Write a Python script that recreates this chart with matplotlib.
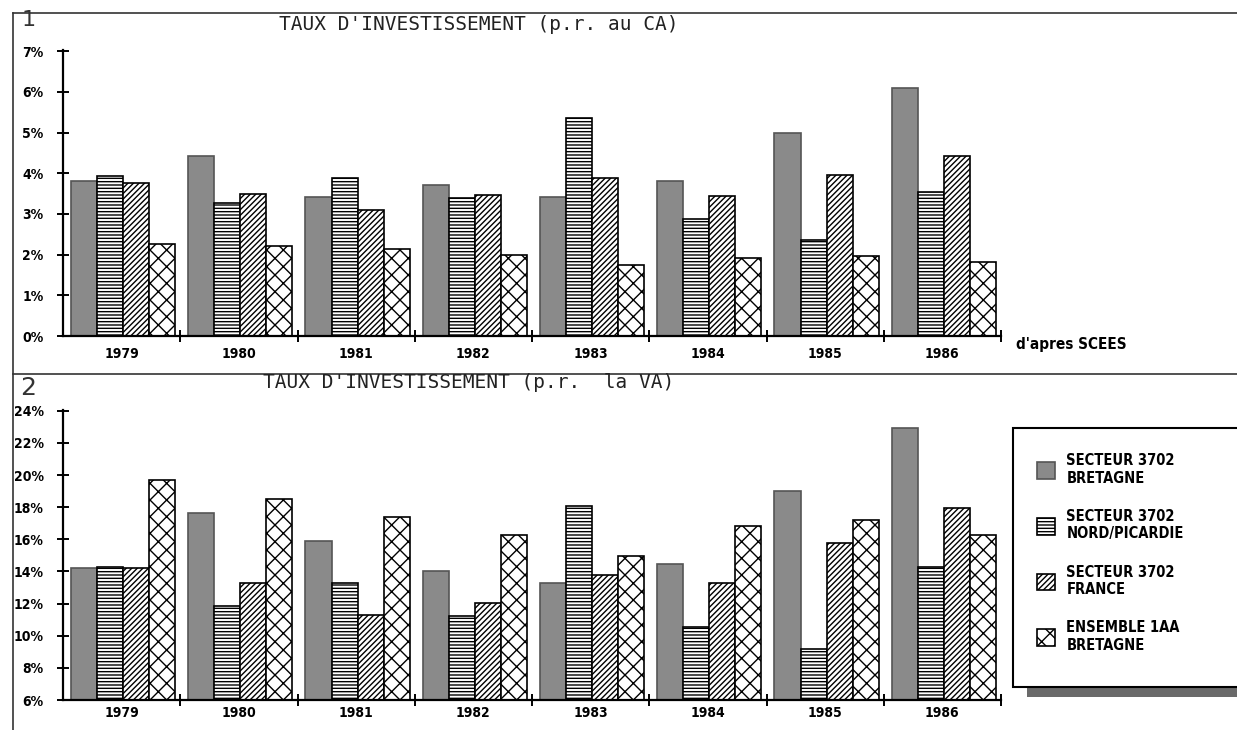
import numpy as np
import matplotlib
matplotlib.use('Agg')
import matplotlib.pyplot as plt
from matplotlib.lines import Line2D
from matplotlib.patches import Rectangle

plt.rcParams['hatch.color'] = 'black'
plt.rcParams['hatch.linewidth'] = 1.0

years = ['1979', '1980', '1981', '1982', '1983', '1984', '1985', '1986']
series = ['SECTEUR 3702\nBRETAGNE', 'SECTEUR 3702\nNORD/PICARDIE',
          'SECTEUR 3702\nFRANCE', 'ENSEMBLE 1AA\nBRETAGNE']

# taux d'investissement p.r. au CA (%)
ca_bretagne = [3.81, 4.42, 3.42, 3.70, 3.42, 3.81, 5.00, 6.09]
ca_nord = [3.93, 3.28, 3.89, 3.38, 5.37, 2.87, 2.35, 3.55]
ca_france = [3.77, 3.48, 3.10, 3.46, 3.89, 3.44, 3.95, 4.42]
ca_iaa = [2.27, 2.20, 2.15, 1.99, 1.75, 1.91, 1.97, 1.82]

# taux d'investissement p.r. la VA (%)
va_bretagne = [14.2, 17.65, 15.9, 14.05, 13.3, 14.45, 19.0, 22.95]
va_nord = [14.3, 11.85, 13.3, 11.2, 18.1, 10.55, 9.15, 14.3]
va_france = [14.2, 13.3, 11.3, 12.05, 13.8, 13.3, 15.8, 17.95]
va_iaa = [19.7, 18.5, 17.4, 16.25, 14.95, 16.8, 17.2, 16.3]

styles = [dict(facecolor='#8a8a8a', edgecolor='#555555', hatch=None),
          dict(facecolor='white', edgecolor='black', hatch='-----'),
          dict(facecolor='white', edgecolor='black', hatch='//////'),
          dict(facecolor='white', edgecolor='black', hatch='xx')]

W, H = 1237, 730
fig = plt.figure(figsize=(W / 100, H / 100), dpi=100)


def fx(px):
    return px / W


def fy(py):
    return 1 - py / H


tick_font = dict(family='DejaVu Sans', weight='bold', stretch='condensed', size=10)


def draw_panel(ax, data, ylim, yticks, year_pad):
    x = np.arange(len(years))
    w = 0.222
    off = 0.068
    bars = []
    for k, (vals, st) in enumerate(zip(data, styles)):
        b = ax.bar(x + off + k * w, vals, width=w, align='edge', linewidth=1.2, **st)
        bars.append(b)
    ax.set_xlim(0, len(years))
    ax.set_ylim(*ylim)
    for s in ['top', 'right']:
        ax.spines[s].set_visible(False)
    for s in ['left', 'bottom']:
        ax.spines[s].set_linewidth(1.6)
    ax.set_yticks(yticks)
    ax.set_yticklabels(['%d%%' % t for t in yticks], fontdict=tick_font)
    ax.tick_params(axis='y', direction='inout', length=8, width=1.4, pad=10)
    ax.set_xticks(np.arange(1, len(years) + 1))
    ax.set_xticklabels([])
    ax.tick_params(axis='x', which='major', direction='inout', length=8, width=1.4)
    ax.set_xticks(x + 0.5, minor=True)
    ax.set_xticklabels(years, minor=True, fontdict=tick_font)
    ax.tick_params(axis='x', which='minor', length=0, pad=year_pad)
    return bars


ax1 = fig.add_axes([fx(63), fy(336), fx(1001) - fx(63), fy(50) - fy(336)])
draw_panel(ax1, [ca_bretagne, ca_nord, ca_france, ca_iaa], (0, 7.03), range(0, 8), 8)

ax2 = fig.add_axes([fx(63), fy(700), fx(1001) - fx(63), fy(410) - fy(700)])
bars = draw_panel(ax2, [va_bretagne, va_nord, va_france, va_iaa], (6, 24.05), range(6, 25, 2), 4)

title_font = dict(family='DejaVu Sans Mono', size=14, color='#222222')
fig.text(fx(479), fy(24), "TAUX D'INVESTISSEMENT (p.r. au CA)", ha='center', va='center', **title_font)
fig.text(fx(469), fy(383), "TAUX D'INVESTISSEMENT (p.r.  la VA)", ha='center', va='center', **title_font)
fig.text(fx(1016), fy(344), "d'apres SCEES", ha='left', va='center',
         family='DejaVu Sans', weight='bold', stretch='condensed', size=11)

# panel numbers
fig.text(fx(22), fy(20), '1', ha='left', va='center', size=16, color='#333333', family='DejaVu Sans')
fig.text(fx(20), fy(388), '2', ha='left', va='center', size=18, color='#333333', family='DejaVu Sans')

# frame lines of the sheet
for xs, ys in [([13, 1237], [13, 13]), ([13, 1237], [374, 374]), ([13, 13], [13, 730])]:
    fig.add_artist(Line2D([fx(v) for v in xs], [fy(v) for v in ys], color='#333333', lw=1.2))

# legend box with shadow
fig.add_artist(Rectangle((fx(1027), fy(697)), fx(260), fy(428) - fy(440), transform=fig.transFigure,
                         facecolor='#6a6a6a', edgecolor='none', zorder=1))
fig.add_artist(Rectangle((fx(1013), fy(687)), fx(260), fy(428) - fy(687), transform=fig.transFigure,
                         facecolor='white', edgecolor='black', lw=1.5, zorder=2))
leg = fig.legend(bars, series, loc='upper left', bbox_to_anchor=(fx(1024), fy(440)),
                 frameon=False, handlelength=1.25, handleheight=1.4, handletextpad=0.75,
                 labelspacing=1.6, prop=dict(family='DejaVu Sans', weight='bold',
                                             stretch='condensed', size=10.5))
leg.set_zorder(3)

fig.savefig('out.png', dpi=100)
